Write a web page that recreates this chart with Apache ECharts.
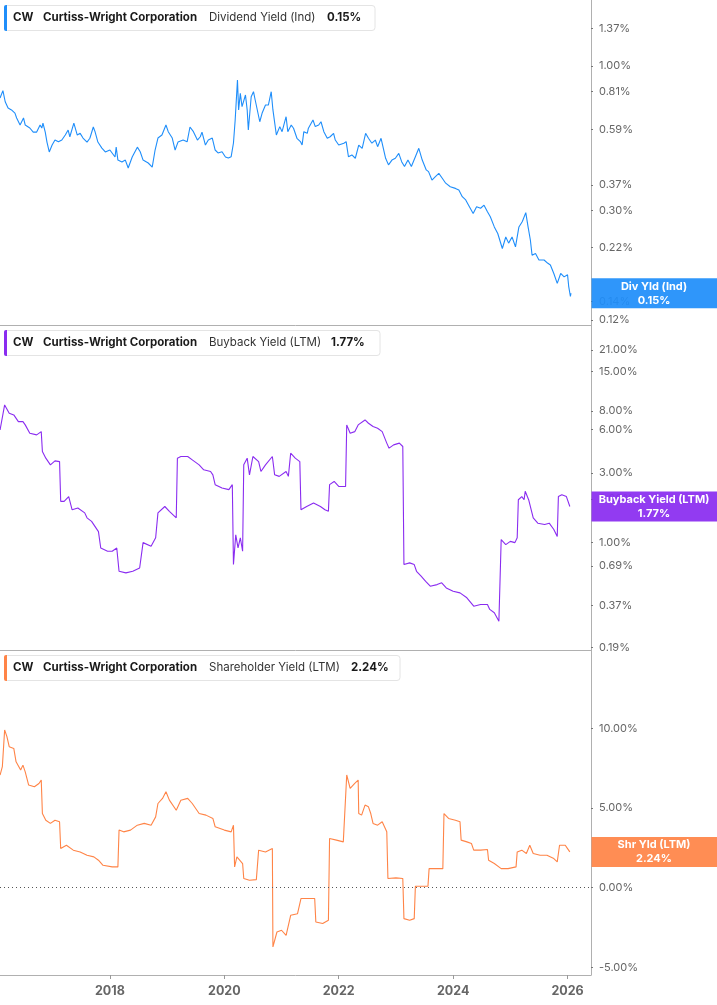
<!DOCTYPE html>
<html><head><meta charset="utf-8">
<script src="https://cdn.jsdelivr.net/npm/echarts@6/dist/echarts.min.js"></script>
<style>html,body{margin:0;padding:0;background:#fff}#c{width:717px;height:1005px}</style>
</head><body><div id="c"></div>
<script>
// ---------- data ----------
const ticker = 'CW';
const company = 'Curtiss-Wright Corporation';
const yearTicks = [2018, 2020, 2022, 2024, 2026];

const divName = 'Dividend Yield (Ind)';
const divShort = 'Div Yld (Ind)';
const divTicks = [0.12, 0.14, 0.22, 0.30, 0.37, 0.59, 0.81, 1.00, 1.37];
const divDates = [2016.08,2016.13,2016.17,2016.22,2016.28,2016.34,2016.37,2016.43,2016.46,2016.49,2016.52,2016.60,2016.66,2016.72,2016.78,2016.81,2016.83,2016.87,2016.90,2016.94,2016.99,2017.04,2017.10,2017.16,2017.22,2017.27,2017.30,2017.37,2017.43,2017.48,2017.53,2017.60,2017.65,2017.71,2017.74,2017.79,2017.86,2017.92,2018.00,2018.09,2018.11,2018.14,2018.21,2018.27,2018.32,2018.39,2018.48,2018.53,2018.58,2018.67,2018.74,2018.79,2018.84,2018.91,2018.98,2019.02,2019.09,2019.14,2019.19,2019.28,2019.35,2019.40,2019.46,2019.53,2019.58,2019.61,2019.67,2019.72,2019.79,2019.84,2019.89,2019.96,2020.02,2020.07,2020.12,2020.16,2020.19,2020.23,2020.25,2020.28,2020.31,2020.37,2020.40,2020.42,2020.47,2020.51,2020.54,2020.57,2020.62,2020.66,2020.72,2020.77,2020.82,2020.85,2020.91,2020.97,2021.01,2021.08,2021.11,2021.17,2021.21,2021.27,2021.33,2021.36,2021.39,2021.45,2021.47,2021.55,2021.59,2021.65,2021.69,2021.74,2021.80,2021.85,2021.91,2021.94,2022.00,2022.09,2022.13,2022.17,2022.23,2022.29,2022.35,2022.41,2022.47,2022.52,2022.58,2022.64,2022.68,2022.74,2022.82,2022.87,2022.93,2022.99,2023.05,2023.10,2023.15,2023.21,2023.27,2023.34,2023.40,2023.46,2023.53,2023.57,2023.63,2023.69,2023.75,2023.81,2023.87,2023.95,2024.04,2024.10,2024.16,2024.22,2024.27,2024.35,2024.41,2024.48,2024.54,2024.60,2024.65,2024.72,2024.78,2024.86,2024.92,2024.97,2025.03,2025.09,2025.15,2025.21,2025.27,2025.31,2025.35,2025.38,2025.44,2025.50,2025.59,2025.65,2025.70,2025.76,2025.82,2025.88,2025.94,2026.00,2026.02,2026.05,2026.06];
const divValues = [0.766,0.814,0.742,0.704,0.693,0.675,0.648,0.611,0.601,0.648,0.611,0.596,0.576,0.576,0.611,0.596,0.621,0.576,0.530,0.488,0.517,0.539,0.531,0.539,0.562,0.586,0.554,0.621,0.562,0.570,0.548,0.530,0.547,0.601,0.578,0.530,0.504,0.488,0.496,0.468,0.508,0.456,0.449,0.456,0.427,0.468,0.508,0.489,0.456,0.445,0.430,0.496,0.548,0.562,0.611,0.578,0.548,0.496,0.530,0.539,0.531,0.601,0.578,0.539,0.554,0.576,0.517,0.539,0.548,0.496,0.484,0.489,0.468,0.464,0.469,0.526,0.637,0.890,0.693,0.796,0.712,0.785,0.693,0.586,0.774,0.807,0.753,0.764,0.628,0.674,0.722,0.722,0.807,0.693,0.562,0.603,0.578,0.655,0.578,0.611,0.595,0.547,0.532,0.517,0.578,0.570,0.595,0.637,0.603,0.611,0.628,0.578,0.547,0.554,0.570,0.539,0.517,0.525,0.532,0.469,0.476,0.463,0.517,0.503,0.570,0.547,0.525,0.539,0.510,0.547,0.463,0.438,0.456,0.463,0.482,0.450,0.432,0.456,0.432,0.469,0.503,0.456,0.420,0.414,0.386,0.397,0.408,0.392,0.376,0.365,0.360,0.355,0.336,0.327,0.313,0.292,0.309,0.305,0.313,0.296,0.284,0.261,0.247,0.218,0.240,0.228,0.240,0.221,0.261,0.273,0.294,0.261,0.234,0.206,0.209,0.198,0.198,0.193,0.190,0.177,0.163,0.177,0.172,0.175,0.159,0.146,0.150];

const bbName = 'Buyback Yield (LTM)';
const bbShort = 'Buyback Yield (LTM)';
const bbTicks = [0.19, 0.37, 0.69, 1.00, 2.00, 3.00, 6.00, 8.00, 15.00, 21.00];
const bbDates = [2016.08,2016.16,2016.24,2016.32,2016.40,2016.48,2016.52,2016.60,2016.72,2016.80,2016.82,2016.88,2016.96,2017.04,2017.12,2017.14,2017.20,2017.28,2017.34,2017.44,2017.56,2017.60,2017.68,2017.80,2017.84,2017.96,2018.04,2018.12,2018.16,2018.28,2018.40,2018.52,2018.58,2018.72,2018.80,2018.84,2018.96,2019.04,2019.16,2019.18,2019.24,2019.36,2019.44,2019.56,2019.64,2019.76,2019.80,2019.84,2019.96,2020.08,2020.14,2020.16,2020.20,2020.24,2020.28,2020.32,2020.34,2020.40,2020.44,2020.50,2020.60,2020.64,2020.72,2020.84,2020.88,2020.96,2021.08,2021.12,2021.16,2021.24,2021.32,2021.34,2021.44,2021.56,2021.68,2021.76,2021.82,2021.84,2021.92,2022.00,2022.12,2022.14,2022.20,2022.28,2022.34,2022.46,2022.52,2022.60,2022.68,2022.76,2022.84,2022.88,2022.96,2023.06,2023.12,2023.14,2023.24,2023.32,2023.36,2023.44,2023.52,2023.60,2023.72,2023.80,2023.88,2024.00,2024.12,2024.24,2024.36,2024.48,2024.60,2024.64,2024.72,2024.80,2024.84,2024.92,2025.00,2025.08,2025.12,2025.14,2025.20,2025.24,2025.26,2025.32,2025.40,2025.48,2025.60,2025.68,2025.76,2025.82,2025.84,2025.90,2025.98,2026.04];
const bbValues = [5.94,8.81,7.73,7.53,6.77,6.77,6.43,5.64,5.49,5.78,4.22,3.80,3.42,3.64,3.60,1.92,1.92,2.07,1.68,1.73,1.60,1.48,1.40,1.19,0.919,0.873,0.873,0.919,0.636,0.620,0.636,0.670,1.00,0.944,1.08,1.60,1.77,1.64,1.48,3.80,3.90,3.90,3.70,3.42,3.16,3.08,2.92,2.50,2.37,2.31,2.50,0.707,1.13,0.919,1.08,0.873,3.42,3.80,2.92,3.90,3.60,3.08,3.42,3.90,2.92,2.85,3.08,2.85,4.11,3.80,3.60,1.68,1.77,1.87,1.77,1.68,1.64,2.50,2.63,2.43,2.43,6.43,5.64,5.78,6.43,6.95,6.60,6.27,6.10,5.78,4.82,4.45,4.69,4.82,4.57,0.707,0.726,0.707,0.636,0.588,0.543,0.502,0.515,0.530,0.489,0.464,0.452,0.418,0.366,0.376,0.376,0.348,0.330,0.289,1.05,0.969,1.02,1.00,1.08,1.97,2.07,1.97,2.25,1.97,1.48,1.36,1.33,1.36,1.23,1.10,2.07,2.13,2.07,1.77];

const shName = 'Shareholder Yield (LTM)';
const shShort = 'Shr Yld (LTM)';
const shTicks = [-5, 0, 5, 10];
const shDates = [2016.08,2016.12,2016.16,2016.20,2016.24,2016.32,2016.36,2016.44,2016.48,2016.52,2016.58,2016.68,2016.76,2016.80,2016.82,2016.88,2016.96,2017.04,2017.12,2017.14,2017.24,2017.36,2017.48,2017.60,2017.72,2017.80,2017.88,2018.04,2018.14,2018.16,2018.24,2018.36,2018.48,2018.60,2018.72,2018.80,2018.84,2018.92,2018.98,2019.04,2019.16,2019.24,2019.36,2019.44,2019.56,2019.68,2019.80,2019.84,2020.00,2020.12,2020.16,2020.18,2020.22,2020.32,2020.34,2020.44,2020.56,2020.60,2020.72,2020.84,2020.85,2020.92,2021.00,2021.08,2021.16,2021.28,2021.34,2021.44,2021.58,2021.60,2021.72,2021.82,2021.84,2021.96,2022.08,2022.14,2022.20,2022.28,2022.34,2022.35,2022.40,2022.46,2022.52,2022.56,2022.60,2022.68,2022.76,2022.84,2022.86,2023.00,2023.12,2023.14,2023.24,2023.32,2023.34,2023.44,2023.56,2023.58,2023.72,2023.82,2023.84,2023.92,2024.04,2024.12,2024.14,2024.24,2024.32,2024.36,2024.48,2024.60,2024.62,2024.72,2024.84,2024.96,2025.10,2025.12,2025.20,2025.28,2025.34,2025.40,2025.52,2025.64,2025.76,2025.82,2025.86,2025.96,2026.00,2026.04];
const shValues = [7.07,7.59,9.90,9.48,8.85,8.74,7.90,7.38,7.69,7.27,6.44,6.33,6.54,6.75,4.65,4.23,4.03,4.23,4.13,2.45,2.66,2.35,2.24,2.03,1.93,1.72,1.40,1.30,1.30,3.61,3.50,3.61,3.92,4.03,3.92,4.44,5.28,5.60,6.02,5.49,4.86,5.49,5.60,5.28,4.65,4.55,4.34,3.82,3.61,3.50,3.92,1.30,1.93,1.51,0.57,0.46,0.50,2.35,2.24,2.45,-3.73,-2.79,-2.68,-3.00,-1.74,-1.64,-0.69,-0.69,-0.69,-2.16,-2.26,-2.05,3.08,2.98,2.87,7.07,6.23,6.54,6.75,4.65,4.55,5.18,5.07,4.65,4.03,3.92,4.13,3.50,0.57,0.61,0.57,-1.95,-2.05,-1.95,0.08,0.08,0.08,1.19,1.19,1.19,4.65,4.34,4.23,4.13,2.98,2.87,2.77,2.35,2.35,2.39,1.72,1.51,1.19,1.19,1.30,2.24,2.35,2.14,2.66,2.14,2.03,2.03,1.82,1.61,2.66,2.66,2.45,2.24];

// ---------- styling ----------
const FONT = 'Inter, "Noto Sans", sans-serif';
const COLORS = ['#1f8efa', '#8a2cf0', '#ff8447'];
const AXIS_GRAY = '#b0b0b0';
const GRID_RIGHT = 126;
const X_MIN = 2016.079, X_MAX = 2026.41;

const chart = echarts.init(document.getElementById('c'), null, {renderer: 'canvas'});

const grids = [
  {left: 0, right: GRID_RIGHT, top: 0, height: 325},
  {left: 0, right: GRID_RIGHT, top: 325, height: 325},
  {left: 0, right: GRID_RIGHT, top: 650, height: 325}
];

function xAxis(i) {
  const last = i === 2;
  return {
    type: 'value', gridIndex: i, min: X_MIN, max: X_MAX,
    axisLine: {show: true, onZero: false, lineStyle: {color: AXIS_GRAY, width: 1}},
    axisTick: {show: last, length: 4, lineStyle: {color: '#999'}, customValues: yearTicks},
    axisLabel: {show: last, customValues: yearTicks, margin: 10, color: '#666', fontWeight: 'bold', fontSize: 12.5, fontFamily: FONT, formatter: v => String(Math.round(v))},
    splitLine: {show: false}
  };
}
function yAxis(i, type, min, max, ticks) {
  return {
    type: type, gridIndex: i, position: 'right', min: min, max: max,
    axisLine: {show: true, lineStyle: {color: AXIS_GRAY, width: 1}},
    axisTick: {show: true, length: 2, lineStyle: {color: '#777'}, customValues: ticks},
    axisLabel: {show: true, customValues: ticks, margin: 8, color: '#666', fontSize: 11, fontFamily: FONT, formatter: v => Number(v).toFixed(2) + '%'},
    splitLine: {show: false}
  };
}

const pair = (d, v) => d.map((x, k) => [x, v[k]]);

chart.setOption({
  animation: false,
  backgroundColor: '#ffffff',
  grid: grids,
  xAxis: [xAxis(0), xAxis(1), xAxis(2)],
  yAxis: [
    yAxis(0, 'log', 0.1151, 1.735, divTicks),
    yAxis(1, 'log', 0.1832, 31.18, bbTicks),
    yAxis(2, 'value', -5.49, 14.92, shTicks)
  ],
  series: [
    {type: 'line', xAxisIndex: 0, yAxisIndex: 0, data: pair(divDates, divValues), showSymbol: false, lineStyle: {color: COLORS[0], width: 1.1}, itemStyle: {color: COLORS[0]}},
    {type: 'line', xAxisIndex: 1, yAxisIndex: 1, data: pair(bbDates, bbValues), showSymbol: false, lineStyle: {color: COLORS[1], width: 1.1}, itemStyle: {color: COLORS[1]}},
    {type: 'line', xAxisIndex: 2, yAxisIndex: 2, data: pair(shDates, shValues), showSymbol: false, lineStyle: {color: COLORS[2], width: 1.1}, itemStyle: {color: COLORS[2]},
      markLine: {silent: true, symbol: 'none', label: {show: false}, lineStyle: {color: '#555', type: [1, 3], width: 1}, data: [{yAxis: 0}]}}
  ]
});

// ---------- legend boxes & end labels ----------
const legends = [
  {top: 5, right: 375, name: divName, val: divValues[divValues.length - 1], valX: 327},
  {top: 330, right: 380, name: bbName, val: bbValues[bbValues.length - 1], valX: 331},
  {top: 655, right: 400, name: shName, val: shValues[shValues.length - 1], valX: 351}
];
const ends = [
  {short: divShort, val: divValues[divValues.length - 1]},
  {short: bbShort, val: bbValues[bbValues.length - 1]},
  {short: shShort, val: shValues[shValues.length - 1]}
];

const graphics = [];
legends.forEach((L, i) => {
  const cy = L.top + 12.5;
  graphics.push({type: 'rect', z: 50, shape: {x: 4.5, y: L.top + 0.5, width: L.right - 4.5, height: 25, r: 3}, style: {fill: '#fff', stroke: '#e4e4e4', lineWidth: 1}});
  graphics.push({type: 'rect', z: 51, shape: {x: 4, y: L.top, width: 3, height: 26, r: [2, 0, 0, 2]}, style: {fill: COLORS[i]}});
  const t = (x, text, bold, color) => graphics.push({type: 'text', z: 52, x: x, y: cy, style: {text: text, fill: color, font: (bold ? 'bold ' : '') + '11.5px ' + FONT, textVerticalAlign: 'middle', textAlign: 'left'}});
  t(13, ticker, true, '#1a1a1a');
  t(43, company, true, '#1a1a1a');
  t(209, L.name, false, '#333');
  t(L.valX, L.val.toFixed(2) + '%', true, '#1a1a1a');
});

ends.forEach((E, i) => {
  const py = chart.convertToPixel({yAxisIndex: i}, E.val);
  const x0 = 717 - GRID_RIGHT + 0.5;
  graphics.push({type: 'rect', z: 60, shape: {x: x0, y: py - 15, width: 717 - x0, height: 30}, style: {fill: COLORS[i], opacity: 0.93}});
  graphics.push({type: 'text', z: 61, x: 654, y: py - 7, style: {text: E.short, fill: '#fff', font: 'bold 11px ' + FONT, textAlign: 'center', textVerticalAlign: 'middle'}});
  graphics.push({type: 'text', z: 61, x: 654, y: py + 7, style: {text: E.val.toFixed(2) + '%', fill: '#fff', font: 'bold 11px ' + FONT, textAlign: 'center', textVerticalAlign: 'middle'}});
});

chart.setOption({graphic: graphics});
</script>
</body></html>
